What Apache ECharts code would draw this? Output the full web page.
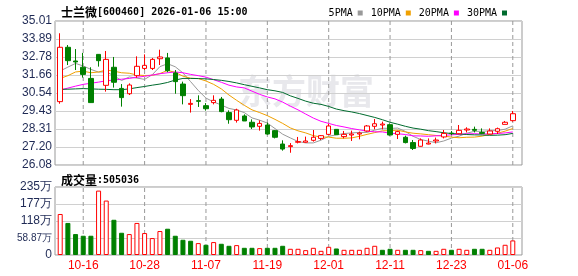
<!DOCTYPE html>
<html><head><meta charset="utf-8">
<script src="https://cdn.jsdelivr.net/npm/echarts@6/dist/echarts.min.js"></script>
<style>html,body{margin:0;padding:0;background:#fff}#c{width:578px;height:276px}</style>
</head><body><div id="c"></div>
<script>
const stockName = '士兰微';
const stockInfo = '[600460] 2026-01-06 15:00';
const volLabel = '成交量';
const dates = ['10-13','10-14','10-15','10-16','10-17','10-20','10-21','10-22','10-23','10-24',
'10-27','10-28','10-29','10-30','10-31','11-03','11-04','11-05','11-06','11-07',
'11-10','11-11','11-12','11-13','11-14','11-17','11-18','11-19','11-20','11-21',
'11-24','11-25','11-26','11-27','11-28','12-01','12-02','12-03','12-04','12-05',
'12-08','12-09','12-10','12-11','12-12','12-15','12-16','12-17','12-18','12-19',
'12-22','12-23','12-24','12-25','12-26','12-29','12-30','12-31','01-05','01-06'];
const opens = [30.01,33.38,32.53,32.14,31.45,32.94,31.02,32.14,30.83,30.50,
31.62,32.07,32.07,32.67,32.72,31.79,31.10,29.84,30.07,29.76,
29.95,30.17,29.33,28.85,29.12,28.73,28.48,28.56,28.21,27.38,
27.22,27.49,27.49,27.61,27.73,27.98,28.29,27.84,27.94,28.00,
28.19,28.48,28.56,28.58,27.98,27.80,27.47,27.24,27.38,27.57,
27.82,28.06,28.02,28.25,28.29,28.10,28.00,28.17,28.60,28.83];
const closes = [33.38,32.55,32.47,31.70,29.95,32.55,32.63,31.21,30.26,31.04,
32.20,32.26,32.63,32.78,31.93,31.25,30.38,29.90,30.03,29.57,
30.09,29.39,28.89,29.49,28.81,28.44,28.66,28.00,27.80,27.07,
27.28,27.53,27.57,27.80,27.90,28.50,27.96,27.98,28.00,28.06,
28.50,28.64,28.62,27.94,28.15,27.47,27.11,27.63,27.44,27.63,
28.04,28.02,28.23,28.31,28.23,28.04,28.19,28.33,28.73,29.26];
const lows = [29.88,32.28,31.97,31.50,29.93,32.18,30.63,30.88,29.70,30.42,
31.50,31.97,31.97,32.28,31.83,30.50,29.84,29.33,29.68,29.45,
29.84,29.35,28.64,28.71,28.81,28.31,28.21,27.96,27.73,26.97,
26.84,27.42,27.46,27.53,27.63,27.94,27.94,27.73,27.57,27.67,
28.15,28.29,28.29,27.90,27.69,27.42,27.01,27.22,27.36,27.42,
27.73,27.94,28.00,28.10,28.10,28.00,27.98,28.00,28.60,28.77];
const highs = [34.25,33.52,33.27,33.03,32.14,32.96,33.15,32.78,31.10,31.14,
32.82,32.94,32.72,33.23,33.03,31.97,31.25,30.17,30.40,29.92,
30.40,30.30,29.47,29.57,29.22,28.91,28.85,28.71,28.25,27.61,
27.44,27.82,27.84,28.25,27.94,28.64,28.31,28.19,28.21,28.15,
28.56,28.93,28.77,28.66,28.21,27.90,27.63,27.73,27.73,27.78,
28.25,28.19,28.56,28.42,28.46,28.35,28.35,28.40,28.81,29.43];
const volumes = [1420000,1110000,725000,667000,667000,2230000,1885000,1220000,770000,725000,
1110000,760000,586000,830000,910000,667000,528000,493000,412000,354000,
447000,389000,319000,342000,249000,249000,238000,249000,249000,319000,
215000,215000,168000,249000,145000,284000,226000,180000,180000,180000,
249000,319000,180000,215000,180000,180000,180000,168000,145000,145000,
215000,180000,215000,180000,215000,215000,180000,261000,354000,505036];
const ma5 = [31.91,32.15,32.38,32.22,32.01,31.84,31.86,31.61,31.32,31.54,
31.47,31.39,31.68,32.18,32.36,32.17,31.79,31.25,30.70,30.23,
29.99,29.80,29.59,29.49,29.33,29.00,28.86,28.68,28.34,27.99,
27.76,27.54,27.45,27.45,27.62,27.86,27.95,28.03,28.07,28.10,
28.10,28.24,28.36,28.35,28.37,28.16,27.86,27.66,27.56,27.46,
27.57,27.75,27.87,28.05,28.17,28.17,28.20,28.22,28.30,28.51];
const ma10 = [31.45,31.62,31.85,31.90,31.80,31.85,31.97,31.90,31.80,31.77,
31.66,31.63,31.64,31.75,31.95,31.82,31.59,31.46,31.44,31.29,
31.08,30.80,30.42,30.09,29.78,29.50,29.33,29.14,28.91,28.66,
28.38,28.20,28.07,27.90,27.81,27.81,27.74,27.74,27.76,27.86,
27.98,28.09,28.20,28.21,28.24,28.13,28.05,28.01,27.96,27.91,
27.87,27.81,27.77,27.80,27.81,27.87,27.98,28.05,28.18,28.34];
const ma20 = [30.73,30.85,30.97,31.08,31.15,31.22,31.30,31.35,31.40,31.45,
31.52,31.58,31.66,31.74,31.80,31.85,31.80,31.70,31.62,31.53,
31.37,31.21,31.03,30.92,30.86,30.66,30.46,30.30,30.18,29.98,
29.73,29.50,29.24,28.99,28.79,28.66,28.53,28.44,28.34,28.26,
28.18,28.14,28.13,28.05,28.02,27.97,27.89,27.88,27.86,27.89,
27.92,27.95,27.98,28.01,28.02,28.00,28.01,28.03,28.07,28.13];
const ma30 = [30.77,30.78,30.80,30.82,30.80,30.78,30.77,30.75,30.75,30.80,
30.88,30.95,31.03,31.10,31.20,31.35,31.45,31.45,31.44,31.42,
31.38,31.33,31.26,31.17,31.06,30.96,30.86,30.75,30.68,30.58,
30.37,30.21,30.04,29.91,29.84,29.71,29.55,29.45,29.37,29.27,
29.15,29.03,28.89,28.73,28.61,28.48,28.37,28.30,28.21,28.15,
28.08,28.03,28.01,27.97,27.95,27.94,27.92,27.93,27.96,28.04];
const priceTicks = ['26.08','27.20','28.31','29.43','30.54','31.66','32.78','33.89','35.01'];
const volTicks = ['0','58.87万','118万','177万','235万'];
const labelDates = ['10-16','10-28','11-07','11-19','12-01','12-11','12-23','01-06'];
const maNames = ['5PMA','10PMA','20PMA','30PMA'];

const RED = '#ff0000', GREEN = '#008000';
const maColors = ['#999999','#f0a000','#ff00ff','#006b2e'];
const MONO = '"DejaVu Sans Mono"', CJK = '"Noto Sans CJK SC"';
const labelIdx = labelDates.map(d => dates.indexOf(d));
const pMin = +priceTicks[0], pMax = +priceTicks[priceTicks.length - 1];
const pInt = (pMax - pMin) / (priceTicks.length - 1);
const vMax = 2354800, vInt = vMax / (volTicks.length - 1);
const xMin = -0.68, xMax = 60.2;

function xAxisCfg(gi, showLabels) {
  return {
    type: 'value', gridIndex: gi, min: xMin, max: xMax,
    axisLine: {show: false}, axisTick: {show: false},
    axisLabel: {show: showLabels, customValues: labelIdx, formatter: v => dates[Math.round(v)],
      color: RED, fontSize: 12, margin: 5, fontFamily: 'Liberation Sans'},
    splitLine: {show: false}
  };
}
// vertical dashed guides at the labelled dates (one short line series per date and panel)
function guideSeries(gi, lo, hi) {
  return labelIdx.map(i => ({
    type: 'line', xAxisIndex: gi, yAxisIndex: gi, data: [[i, lo], [i, hi]],
    symbol: 'none', showSymbol: false, silent: true, z: 2, clip: false,
    lineStyle: {color: '#999999', type: [4, 3], width: 1}
  }));
}
const labelColor = '#1f2a55';
const chart = echarts.init(document.getElementById('c'), null, {renderer: 'canvas'});
const candleData = dates.map((d, i) => [i, opens[i], closes[i], lows[i], highs[i]]);
const volData = volumes.map((v, i) => {
  const up = i === 0 ? closes[i] >= opens[i] : closes[i] >= closes[i - 1];
  return {value: [i, v], itemStyle: up ? {color: '#ffffff', borderColor: RED, borderWidth: 1} : {color: GREEN, borderColor: GREEN, borderWidth: 1}};
});
const maSeries = [ma5, ma10, ma20, ma30].map((arr, k) => ({
  name: maNames[k], type: 'line', xAxisIndex: 0, yAxisIndex: 0,
  data: arr.map((v, i) => [i, v]), showSymbol: false, symbol: 'none',
  lineStyle: {width: 1, color: maColors[k]}, itemStyle: {color: maColors[k]}, z: 3, silent: true
}));
const richTitle = {
  c: {fontSize: 12, fontFamily: CJK, color: '#000'},
  m: {fontSize: 10, fontFamily: MONO, color: '#000'}
};

chart.setOption({
  animation: false,
  backgroundColor: '#ffffff',
  title: [
    {text: '{c|' + stockName + '}{m|' + stockInfo + '}', left: 56, top: 1,
      textStyle: {rich: richTitle}},
    {text: '{c|' + volLabel + '}{m|:' + volumes[volumes.length - 1] + '}', left: 56, top: 169,
      textStyle: {rich: richTitle}}
  ],
  legend: {
    data: maNames.map((n, k) => ({name: n, icon: 'rect', itemStyle: {color: maColors[k]}})),
    right: 66, top: 3, align: 'right', itemWidth: 5, itemHeight: 5, itemGap: 8,
    textStyle: {fontSize: 10, color: '#000', fontFamily: MONO}
  },
  graphic: [{type: 'text', left: 238, top: 74, z: -1, silent: true,
    style: {text: '东方财富', fill: '#e8e8ec', font: 'bold 34px "Noto Sans CJK SC"'}}],
  grid: [
    {left: 55, top: 21, width: 467, height: 144, show: true, borderColor: '#999', borderWidth: 1, backgroundColor: 'transparent'},
    {left: 55, top: 187, width: 467, height: 68, show: true, borderColor: '#999', borderWidth: 1, backgroundColor: 'transparent'}
  ],
  xAxis: [xAxisCfg(0, false), xAxisCfg(1, true)],
  yAxis: [
    {type: 'value', gridIndex: 0, min: pMin, max: pMax, interval: pInt, scale: true,
      axisLine: {show: false}, axisTick: {show: false},
      axisLabel: {formatter: v => priceTicks[Math.round((v - pMin) / pInt)], color: labelColor, fontSize: 12, margin: 3, fontFamily: 'Liberation Sans'},
      splitLine: {show: true, lineStyle: {color: '#d0d0d0', width: 1}}},
    {type: 'value', gridIndex: 1, min: 0, max: vMax, interval: vInt,
      axisLine: {show: false}, axisTick: {show: false},
      axisLabel: {formatter: v => {
          const t = volTicks[Math.round(v / vInt)];
          return t.length > 4 ? '{n|' + t + '}' : t;
        }, color: labelColor, fontSize: 12, margin: 3, fontFamily: 'Liberation Sans',
        rich: {n: {fontSize: 10, color: labelColor, fontFamily: 'Liberation Sans'}}},
      splitLine: {show: true, lineStyle: {color: '#d0d0d0', width: 1}}}
  ],
  series: [
    ...guideSeries(0, pMin, pMax),
    ...guideSeries(1, 0, vMax),
    {type: 'candlestick', xAxisIndex: 0, yAxisIndex: 0, data: candleData, encode: {x: 0, y: [1, 2, 3, 4]},
      barWidth: 5, z: 4, silent: true,
      itemStyle: {color: '#ffffff', color0: GREEN, borderColor: RED, borderColor0: GREEN, borderWidth: 1}},
    ...maSeries,
    {type: 'bar', xAxisIndex: 1, yAxisIndex: 1, data: volData, barWidth: 5, silent: true, z: 3}
  ]
});
</script></body></html>
